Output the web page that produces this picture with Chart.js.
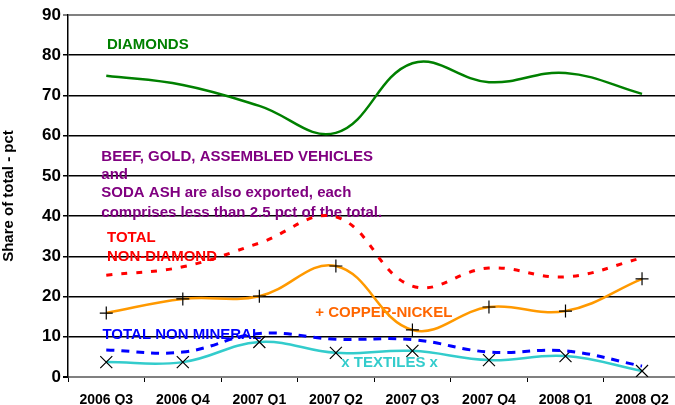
<!DOCTYPE html>
<html>
<head>
<meta charset="utf-8">
<script src="https://cdn.jsdelivr.net/npm/chart.js@4"></script>
<style>
  html, body { margin: 0; padding: 0; background: #fff; overflow: hidden; }
  #wrap { width: 690px; height: 405px; }
</style>
</head>
<body>
<div id="wrap"><canvas id="chart" width="690" height="405"></canvas></div>
<script>
const quarters = ["2006 Q3", "2006 Q4", "2007 Q1", "2007 Q2", "2007 Q3", "2007 Q4", "2008 Q1", "2008 Q2"];
const diamonds = [74.9, 72.6, 67.4, 60.7, 78.0, 73.3, 75.6, 70.4];
const nonDiamond = [25.3, 27.4, 33.3, 39.8, 22.6, 27.1, 24.9, 29.6];
const copperNickel = [15.9, 19.4, 20.1, 27.6, 11.7, 17.4, 16.4, 24.4];
const nonMineral = [6.7, 6.2, 10.8, 9.4, 9.3, 6.2, 6.5, 2.7];
const textiles = [3.7, 3.7, 8.7, 6.0, 6.5, 4.2, 5.2, 1.5];
const yTicks = [0, 10, 20, 30, 40, 50, 60, 70, 80, 90];

// text notes: [text, category index (fractional), value, colour]
const notes = [
  ["DIAMONDS", 0.01, 82.5, "#008000"],
  ["BEEF, GOLD, ASSEMBLED VEHICLES", -0.065, 54.7, "#800080"],
  ["and", -0.065, 50.2, "#800080"],
  ["SODA ASH are also exported, each", -0.065, 45.7, "#800080"],
  ["comprises less than 2.5 pct of the total.", -0.065, 40.8, "#800080"],
  ["TOTAL", 0.01, 34.6, "#FF0000"],
  ["NON-DIAMOND", 0.01, 29.8, "#FF0000"],
  ["+ COPPER-NICKEL", 2.73, 15.9, "#FF6600"],
  ["TOTAL NON MINERAL", -0.05, 10.4, "#0000FF"],
  ["x TEXTILES x", 3.07, 3.5, "#33CCCC"]
];

const notesPlugin = {
  id: "notes",
  beforeDatasetsDraw(chart) {
    const { ctx, scales } = chart;
    ctx.save();
    ctx.font = "bold 15px 'Liberation Sans', Arial, sans-serif";
    ctx.textBaseline = "middle";
    ctx.textAlign = "left";
    notes.forEach(([t, xi, v, c]) => {
      ctx.fillStyle = c;
      ctx.fillText(t, scales.x.getPixelForValue(xi), scales.y.getPixelForValue(v));
    });
    ctx.restore();
  }
};

new Chart(document.getElementById("chart"), {
  type: "line",
  data: {
    labels: quarters,
    datasets: [
      { data: diamonds, borderColor: "#008000", borderWidth: 2.5, pointRadius: 0 },
      { data: nonDiamond, borderColor: "#FF0000", borderWidth: 3, borderDash: [6, 9], pointRadius: 0 },
      { data: copperNickel, borderColor: "#FF9900", borderWidth: 2.5, pointStyle: "cross", pointRadius: 6.5,
        pointBorderColor: "#000", pointBorderWidth: 1.2 },
      { data: nonMineral, borderColor: "#0000FF", borderWidth: 3, borderDash: [8, 7], pointRadius: 0 },
      { data: textiles, borderColor: "#33CCCC", borderWidth: 2.5, pointStyle: "crossRot", pointRadius: 8.5,
        pointBorderColor: "#000", pointBorderWidth: 1.2 }
    ]
  },
  options: {
    responsive: false,
    animation: false,
    events: [],
    layout: { padding: { top: 15, right: 4, left: 0, bottom: 0 } },
    elements: { line: { tension: 0.4, fill: false } },
    plugins: { legend: { display: false }, tooltip: { enabled: false } },
    scales: {
      x: {
        offset: true,
        afterFit(s) { s.height = 28; },
        grid: { offset: true, drawOnChartArea: false, drawTicks: true, tickLength: 5, color: "#000", lineWidth: 1 },
        border: { color: "#808080", width: 2 },
        ticks: { color: "#000", font: { family: "'Liberation Sans', Arial, sans-serif", size: 14, weight: "bold" }, padding: 10, maxRotation: 0, autoSkip: false }
      },
      y: {
        min: 0,
        max: 90,
        afterFit(s) { s.width = 68; },
        afterBuildTicks(s) { s.ticks = yTicks.map(v => ({ value: v })); },
        grid: {
          color: c => (c.tick && (c.tick.value === 90) ? "#808080" : "#000"),
          lineWidth: c => (c.tick && (c.tick.value === 90 || c.tick.value === 0) ? 2 : 1.5),
          drawTicks: true,
          tickLength: 5
        },
        border: { color: "#000", width: 1.5 },
        ticks: { color: "#000", font: { family: "'Liberation Sans', Arial, sans-serif", size: 17, weight: "bold" }, padding: 2 },
        title: { display: true, text: "Share of total - pct", color: "#000", padding: 0,
          font: { family: "'Liberation Sans', Arial, sans-serif", size: 15, weight: "bold" } }
      }
    }
  },
  plugins: [notesPlugin]
});
</script>
</body>
</html>
